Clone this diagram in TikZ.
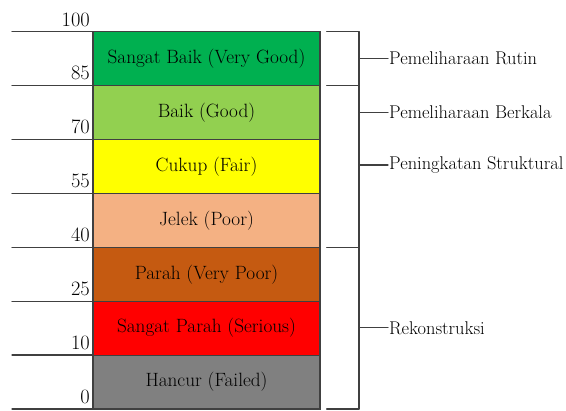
\documentclass[tikz,border=0pt]{standalone}
\usepackage{fontspec}
\definecolor{vgood}{HTML}{00B050}
\definecolor{good}{HTML}{92D050}
\definecolor{fair}{HTML}{FFFF00}
\definecolor{poor}{HTML}{F4B183}
\definecolor{vpoor}{HTML}{C55A11}
\definecolor{serious}{HTML}{FF0000}
\definecolor{failed}{HTML}{808080}
\tikzset{
  band/.style={draw=black!75,line width=1.2pt,minimum width=227bp,minimum height=53.9bp,inner sep=0pt,font=\fontsize{19.3}{22}\selectfont},
  tick/.style={draw=black!75,line width=1.3pt},
  scalenum/.style={anchor=base east,inner sep=0pt,font=\fontsize{20.5}{23}\selectfont},
  action/.style={anchor=west,inner sep=1pt,font=\fontsize{18.5}{22}\selectfont}
}
\begin{document}
\begin{tikzpicture}[x=1bp,y=-1bp,line cap=round]
\useasboundingbox (0,0) rectangle (566,410);
% scale lines and numbers
\foreach \v [count=\i from 0] in {100,85,70,55,40,25,10,0}{
  \draw[tick] (12,{31.7+53.9*\i}) -- (93,{31.7+53.9*\i});
  \node[scalenum] (n\i) at (90,{26+53.9*\i}) {\v};
}
% condition bands
\foreach \n/\c/\t [count=\i] in {sb/vgood/Sangat Baik (Very Good),b/good/Baik (Good),c/fair/Cukup (Fair),j/poor/Jelek (Poor),p/vpoor/Parah (Very Poor),sp/serious/Sangat Parah (Serious),h/failed/Hancur (Failed)}
  \node[band,fill=\c] (\n) at (206.5,{31.7+53.9*(\i-0.5)}) {\t};
% bracket
\coordinate (spine) at (359,0);
\draw[tick] (359,31.7) -- (359,409);
\foreach \i in {0,1,4,7}
  \draw[tick] (326.7,{31.7+53.9*\i}) -- (359,{31.7+53.9*\i});
% actions
\node[action] (rutin) at (388,58.6) {Pemeliharaan Rutin};
\node[action] (berkala) at (388,112.5) {Pemeliharaan Berkala};
\node[action] (struktural) at (388,165) {Peningkatan Struktural};
\node[action] (rekon) at (388,327.8) {Rekonstruksi};
\foreach \a in {rutin,berkala,struktural,rekon}
  \draw[tick] (\a.west -| spine) -- (\a.west);
\end{tikzpicture}
\end{document}
